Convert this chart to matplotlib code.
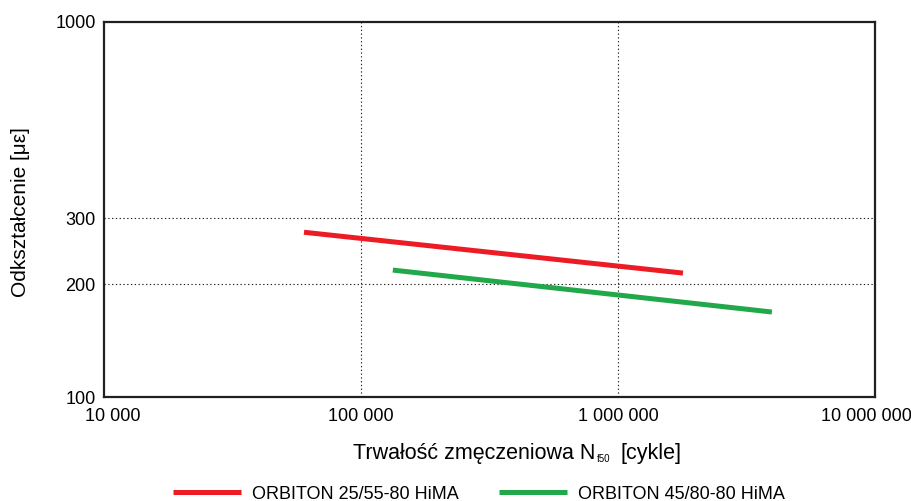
import matplotlib
matplotlib.use("Agg")
import matplotlib.pyplot as plt
from matplotlib.ticker import FixedLocator, NullLocator
from matplotlib.transforms import ScaledTranslation

plt.rcParams["font.family"] = ["Liberation Sans", "DejaVu Sans"]

# fatigue lines (end points)
red_n = [60000, 1.79e6]
red_eps = [275, 214]
green_n = [133000, 3.97e6]
green_eps = [218, 168.5]

series = [
    ("ORBITON 25/55-80 HiMA", red_n, red_eps, "#ed1c24"),
    ("ORBITON 45/80-80 HiMA", green_n, green_eps, "#21a84a"),
]

x_ticks = [1e4, 1e5, 1e6, 1e7]
x_labels = ["10 000", "100 000", "1 000 000", "10 000 000"]
y_ticks = [100, 200, 300, 1000]
y_labels = ["100", "200", "300", "1000"]

W, H = 912, 501
fig = plt.figure(figsize=(W / 100, H / 100), dpi=100)
ax = fig.add_axes([104 / W, 1 - 397 / H, 771 / W, 375 / H])

for name, xs, ys, col in series:
    ax.plot(xs, ys, color=col, lw=3.6, solid_capstyle="butt", label=name)

ax.set_xscale("log")
ax.set_yscale("log")
ax.set_xlim(1e4, 1e7)
ax.set_ylim(100, 1000)

ax.xaxis.set_major_locator(FixedLocator(x_ticks))
ax.xaxis.set_minor_locator(NullLocator())
ax.set_xticklabels(x_labels, fontsize=13)
ax.yaxis.set_major_locator(FixedLocator(y_ticks))
ax.yaxis.set_minor_locator(NullLocator())
ax.set_yticklabels(y_labels, fontsize=13)
ax.tick_params(axis="x", length=0, pad=8)
ax.tick_params(axis="y", length=0, pad=6)

# nudge end labels inward so they stay on the canvas
xl = ax.get_xticklabels()
xl[0].set_transform(xl[0].get_transform() + ScaledTranslation(9 / 100, 0, fig.dpi_scale_trans))
xl[-1].set_transform(xl[-1].get_transform() + ScaledTranslation(-9 / 100, 0, fig.dpi_scale_trans))

for v in [1e5, 1e6]:
    ax.axvline(v, color="#222222", lw=0.8, ls=(0, (1.2, 2.2)), zorder=0)
for v in [200, 300]:
    ax.axhline(v, color="#222222", lw=0.8, ls=(0, (1.2, 2.2)), zorder=0)

for s in ax.spines.values():
    s.set_linewidth(1.6)
    s.set_color("#231f20")

# x label built from pieces: the subscript is tiny in the original
rend = fig.canvas.get_renderer()
x0, yb = 353 / W, 1 - 459 / H
t1 = fig.text(x0, yb, "Trwałość zmęczeniowa N", fontsize=15.5, va="baseline")
w1 = t1.get_window_extent(rend).width / W
t2 = fig.text(x0 + w1 + 1 / W, yb - 3 / H, "f50", fontsize=7, va="baseline")
w2 = t2.get_window_extent(rend).width / W
fig.text(x0 + w1 + w2 + 12 / W, yb, "[cykle]", fontsize=15.5, va="baseline")

fig.text(21 / W, 1 - 212 / H, "Odkształcenie [με]", fontsize=15, rotation=90,
         ha="center", va="center")

fig.legend(loc="lower center", bbox_to_anchor=(0.525, -0.036), ncol=2, frameon=False,
           fontsize=13, handlelength=3.8, handletextpad=0.6, columnspacing=2.2)

fig.savefig("out.png", dpi=100)
